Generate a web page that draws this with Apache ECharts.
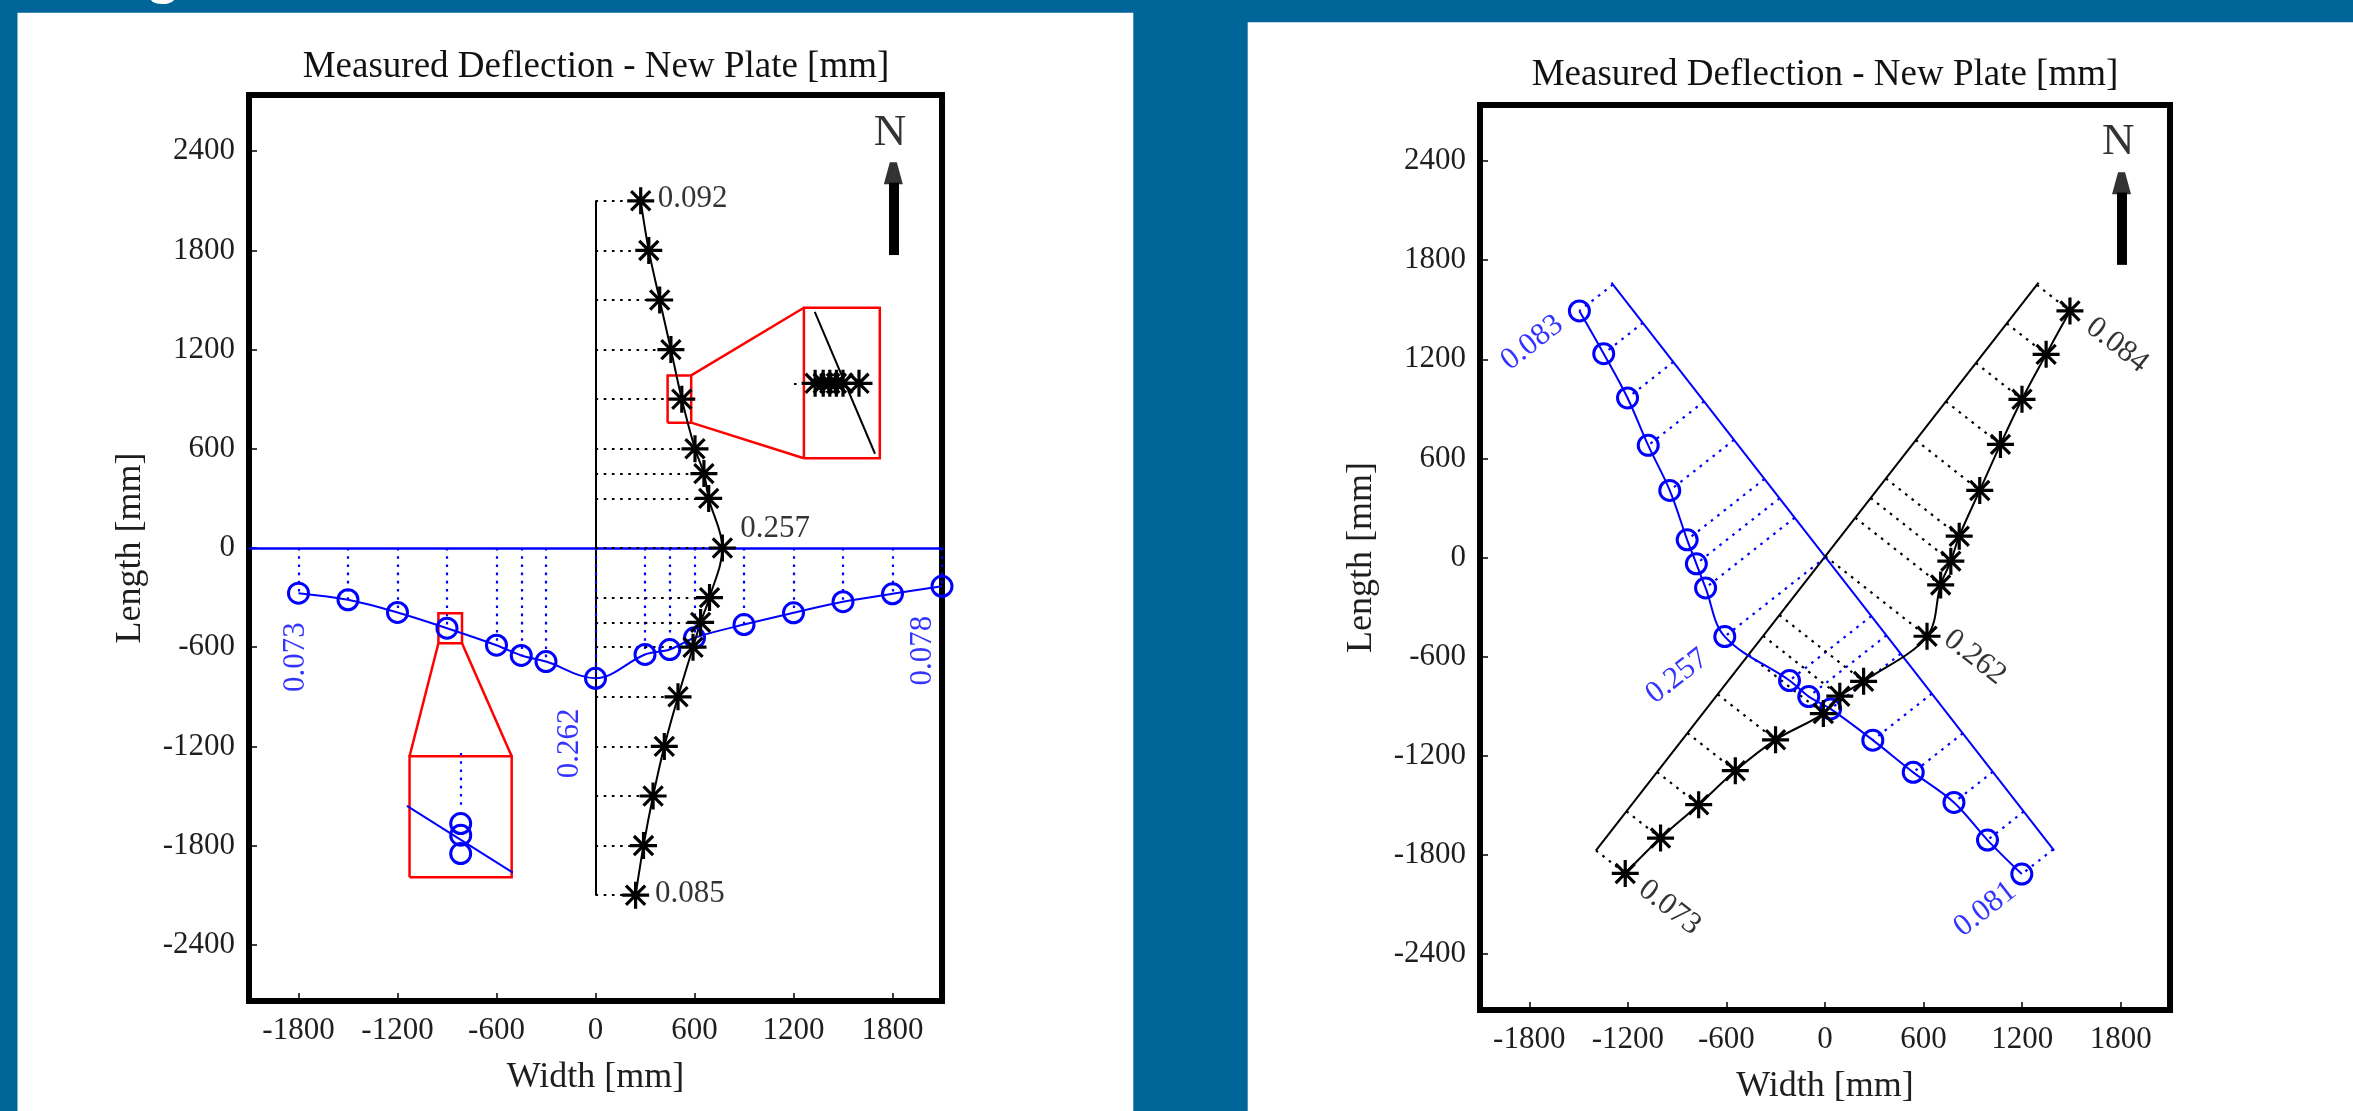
<!DOCTYPE html>
<html><head><meta charset="utf-8">
<script src="https://cdn.jsdelivr.net/npm/echarts@6/dist/echarts.min.js"></script>
<style>html,body{margin:0;padding:0;background:#00669a;overflow:hidden}#c{width:2353px;height:1111px}</style>
</head><body><div id="c"></div>
<script>
// ---------------- data ----------------
const TITLE = 'Measured Deflection - New Plate [mm]';
const X_NAME = 'Width [mm]';
const Y_NAME = 'Length [mm]';
const X_TICKS = [-1800, -1200, -600, 0, 600, 1200, 1800];
const Y_TICKS = [-2400, -1800, -1200, -600, 0, 600, 1200, 1800, 2400];
const X_RANGE = [-2100, 2100];
const Y_RANGE = [-2740, 2740];

// Left panel: projected deflections
const L_BLUE_X = [-1800, -1500, -1200, -900, -600, -450, -300, 0, 300, 450, 600, 900, 1200, 1500, 1800, 2100];
const L_BLUE_Y = [-273, -313, -390, -485, -588, -650, -687, -788, -644, -614, -543, -463, -392, -325, -277, -232];
const L_BLACK_Y = [2100, 1800, 1500, 1200, 900, 600, 450, 300, 0, -300, -450, -600, -900, -1200, -1500, -1800, -2100];
const L_BLACK_X = [274, 323, 389, 457, 523, 603, 657, 686, 769, 691, 637, 591, 500, 417, 349, 291, 243];
const L_LABELS = ['0.092', '0.257', '0.085', '0.073', '0.262', '0.078'];
const L_LABEL_AT = [[589, 2113], [1089, 113], [572, -2091], [-1814, -660], [-157, -1181], [1986, -620]];
const L_LABEL_ROT = [0, 0, 0, 90, 90, 90];
const L_LABEL_SERIES = ['k', 'k', 'k', 'b', 'b', 'b'];

// Left panel insets (zoom boxes)
const INSET_B_SMALL = [-952, -809, -576, -394];
const INSET_B_BIG = [-1127, -508, -1991, -1260];
const INSET_B_STEM = [[-817, -1240], [-817, -1560]];
const INSET_B_CIRC_X = [-817, -817, -817];
const INSET_B_CIRC_Y = [-1667, -1737, -1848];
const INSET_B_LINE = [[-1143, -1560], [-501, -1964]];
const INSET_K_SMALL = [437, 580, 758, 1044];
const INSET_K_BIG = [1263, 1723, 543, 1453];
const INSET_K_STEM = [[1203, 996], [1335, 996]];
const INSET_K_STAR_X = [1331, 1380, 1420, 1460, 1500, 1597];
const INSET_K_STAR_Y = [996, 996, 996, 996, 996, 996];
const INSET_K_LINE = [[1329, 1428], [1694, 570]];

// Right panel: diagonal deflections
const R_BLUE_X = [-1495, -1347, -1202, -1076, -945, -839, -783, -727, -610, -216, -99, 34, 291, 537, 785, 989, 1198];
const R_BLUE_Y = [1493, 1234, 966, 679, 406, 107, -38, -184, -479, -745, -842, -917, -1106, -1301, -1483, -1711, -1917];
const R_BLACK_X = [1491, 1346, 1199, 1068, 942, 817, 766, 704, 621, 235, 90, -10, -301, -546, -769, -1001, -1216];
const R_BLACK_Y = [1493, 1230, 958, 685, 406, 129, -22, -166, -477, -750, -840, -945, -1104, -1291, -1497, -1699, -1913];
const R_BLUE_REF = [[-1300, 1665], [1395, -1775]];
const R_BLACK_REF = [[-1395, -1775], [1300, 1665]];
const R_LABELS = ['0.083', '0.257', '0.081', '0.084', '0.262', '0.073'];
const R_LABEL_AT = [[-1782, 1300], [-900, -720], [975, -2130], [1778, 1285], [912, -605], [-947, -2120]];
const R_LABEL_ROT = [38, 38, 38, -38, -38, -38];
const R_LABEL_SERIES = ['b', 'b', 'b', 'k', 'k', 'k'];

// North marker
const NORTH_TEXT = 'N';
const NORTH_AT = [1785, 2512];
const NORTH_SHAFT = [[1805, 1772], [1805, 2210]];
const NORTH_HEAD = [1805, 2266];

// ---------------- helpers ----------------
const FONT = '"Liberation Serif", "Times New Roman", serif';
const BLUE = '#0000ff', BLACK = '#000000', RED = '#ff0000';
const STAR = 'path://M0 10L20 10M10 0L10 20M2.9 2.9L17.1 17.1M17.1 2.9L2.9 17.1';
const HEAD = 'path://M6 0L13 0L19 22L0 22Z';
const zip = (xs, ys) => xs.map((x, i) => [x, ys[i]]);
function foot(p, ref) {
  const a = ref[0], b = ref[1], dx = b[0] - a[0], dy = b[1] - a[1];
  const t = ((p[0] - a[0]) * dx + (p[1] - a[1]) * dy) / (dx * dx + dy * dy);
  return [a[0] + t * dx, a[1] + t * dy];
}
function rectCoords(r) { return [[r[0], r[2]], [r[1], r[2]], [r[1], r[3]], [r[0], r[3]], [r[0], r[2]]]; }
function lines(g, segs, color, width, dotted, polyline) {
  return { type: 'lines', coordinateSystem: 'cartesian2d', xAxisIndex: g, yAxisIndex: g, polyline: !!polyline, silent: true,
    z: 3, data: segs.map(s => ({ coords: s })),
    lineStyle: { color: color, width: width, opacity: 1, type: dotted ? [2.6, 5.6] : 'solid', cap: 'butt' } };
}
function curve(g, pts, color) {
  return { type: 'line', xAxisIndex: g, yAxisIndex: g, data: pts, smooth: 0.35, showSymbol: false, silent: true, z: 4,
    lineStyle: { color: color, width: 2 } };
}
function markers(g, pts, kind) {
  const isStar = kind === 'k';
  return { type: 'scatter', xAxisIndex: g, yAxisIndex: g, data: pts, silent: true, z: 5,
    symbol: isStar ? STAR : 'circle', symbolSize: isStar ? 27 : 20,
    itemStyle: { color: 'rgba(0,0,0,0)', borderColor: isStar ? BLACK : BLUE, borderWidth: isStar ? 3.2 : 3, opacity: 1 } };
}
function texts(g, items, size) {
  return { type: 'scatter', xAxisIndex: g, yAxisIndex: g, silent: true, z: 6, symbolSize: 1,
    itemStyle: { color: 'rgba(0,0,0,0)' },
    data: items.map(it => ({ value: it.at, label: { formatter: it.text, rotate: it.rot, color: it.color } })),
    label: { show: true, position: 'inside', fontFamily: FONT, fontSize: size, align: 'center', verticalAlign: 'middle' } };
}
function north(g) {
  return [
    lines(g, [NORTH_SHAFT], BLACK, 10, false),
    { type: 'scatter', xAxisIndex: g, yAxisIndex: g, silent: true, z: 6, data: [NORTH_HEAD], symbol: HEAD, symbolSize: [19, 22],
      itemStyle: { color: BLACK } },
    texts(g, [{ text: NORTH_TEXT, at: NORTH_AT, rot: 0, color: BLACK }], 45)
  ];
}

// ---------------- left panel series ----------------
const lBlue = zip(L_BLUE_X, L_BLUE_Y);
const lBlack = zip(L_BLACK_X, L_BLACK_Y);
const series = [];
series.push(lines(0, [[[X_RANGE[0], 0], [X_RANGE[1], 0]]], BLUE, 2.5, false));
series.push(lines(0, [[[0, L_BLACK_Y[L_BLACK_Y.length - 1]], [0, L_BLACK_Y[0]]]], BLACK, 2, false));
series.push(lines(0, lBlue.map(p => [[p[0], 0], p]), BLUE, 2.2, true));
series.push(lines(0, lBlack.map(p => [[0, p[1]], p]), BLACK, 2.2, true));
series.push(curve(0, lBlue, BLUE));
series.push(curve(0, lBlack, BLACK));
series.push(markers(0, lBlue, 'b'));
series.push(markers(0, lBlack, 'k'));
// blue inset
series.push(lines(0, [rectCoords(INSET_B_SMALL), rectCoords(INSET_B_BIG)], RED, 2.5, false, true));
series.push(lines(0, [[[INSET_B_SMALL[0], INSET_B_SMALL[2]], [INSET_B_BIG[0], INSET_B_BIG[3]]],
                      [[INSET_B_SMALL[1], INSET_B_SMALL[2]], [INSET_B_BIG[1], INSET_B_BIG[3]]]], RED, 2.5, false));
series.push(lines(0, [INSET_B_STEM], BLUE, 2.2, true));
series.push(lines(0, [INSET_B_LINE], BLUE, 2, false));
series.push(markers(0, zip(INSET_B_CIRC_X, INSET_B_CIRC_Y), 'b'));
// black inset
series.push(lines(0, [rectCoords(INSET_K_SMALL), rectCoords(INSET_K_BIG)], RED, 2.5, false, true));
series.push(lines(0, [[[INSET_K_SMALL[1], INSET_K_SMALL[3]], [INSET_K_BIG[0], INSET_K_BIG[3]]],
                      [[INSET_K_SMALL[1], INSET_K_SMALL[2]], [INSET_K_BIG[0], INSET_K_BIG[2]]]], RED, 2.5, false));
series.push(lines(0, [INSET_K_STEM], BLACK, 2.2, true));
series.push(lines(0, [INSET_K_LINE], BLACK, 2, false));
series.push(markers(0, zip(INSET_K_STAR_X, INSET_K_STAR_Y), 'k'));
series.push(texts(0, L_LABELS.map((t, i) => ({ text: t, at: L_LABEL_AT[i], rot: L_LABEL_ROT[i], color: L_LABEL_SERIES[i] === 'b' ? BLUE : BLACK })), 31));
north(0).forEach(s => series.push(s));

// ---------------- right panel series ----------------
const rBlue = zip(R_BLUE_X, R_BLUE_Y);
const rBlack = zip(R_BLACK_X, R_BLACK_Y);
series.push(lines(1, [R_BLUE_REF], BLUE, 2, false));
series.push(lines(1, [R_BLACK_REF], BLACK, 2, false));
series.push(lines(1, rBlue.map(p => [foot(p, R_BLUE_REF), p]), BLUE, 2.2, true));
series.push(lines(1, rBlack.map(p => [foot(p, R_BLACK_REF), p]), BLACK, 2.2, true));
series.push(curve(1, rBlue, BLUE));
series.push(curve(1, rBlack, BLACK));
series.push(markers(1, rBlue, 'b'));
series.push(markers(1, rBlack, 'k'));
series.push(texts(1, R_LABELS.map((t, i) => ({ text: t, at: R_LABEL_AT[i], rot: R_LABEL_ROT[i], color: R_LABEL_SERIES[i] === 'b' ? BLUE : BLACK })), 31));
north(1).forEach(s => series.push(s));

// ---------------- axes ----------------
const plain = v => String(v);
function xAxis(g) {
  return { gridIndex: g, type: 'value', min: X_RANGE[0], max: X_RANGE[1],
    axisLine: { show: false, onZero: false }, splitLine: { show: false },
    axisTick: { show: true, inside: true, length: 8, customValues: X_TICKS, lineStyle: { color: BLACK, width: 1.5 } },
    axisLabel: { customValues: X_TICKS, formatter: plain, margin: 14, fontFamily: FONT, fontSize: 31, color: '#1e1e1e' },
    name: X_NAME, nameLocation: 'middle', nameGap: 59,
    nameTextStyle: { fontFamily: FONT, fontSize: 36, color: '#1e1e1e' } };
}
function yAxis(g) {
  return { gridIndex: g, type: 'value', min: Y_RANGE[0], max: Y_RANGE[1],
    axisLine: { show: false, onZero: false }, splitLine: { show: false },
    axisTick: { show: true, inside: true, length: 8, customValues: Y_TICKS, lineStyle: { color: BLACK, width: 1.5 } },
    axisLabel: { customValues: Y_TICKS, formatter: plain, margin: 14, fontFamily: FONT, fontSize: 31, color: '#1e1e1e' },
    name: Y_NAME, nameLocation: 'middle', nameGap: 100,
    nameTextStyle: { fontFamily: FONT, fontSize: 36, color: '#1e1e1e' } };
}
const gridStyle = { show: true, borderColor: BLACK, borderWidth: 6, backgroundColor: 'rgba(0,0,0,0)' };

const option = {
  animation: false,
  backgroundColor: '#00669a',
  graphic: [
    { type: 'rect', z: -10, shape: { x: 17.5, y: 12.7, width: 1115.8, height: 1111 }, style: { fill: '#ffffff' } },
    { type: 'rect', z: -10, shape: { x: 1247.7, y: 22.3, width: 1106, height: 1111 }, style: { fill: '#ffffff' } },
    { type: 'text', x: 163, y: 5, style: { text: 'g', font: 'bold 60px "Liberation Sans"', fill: '#ffffff', textAlign: 'center', textVerticalAlign: 'bottom', align: 'center', verticalAlign: 'bottom' } },
    { type: 'text', x: 596, y: 67, style: { text: TITLE, font: '37px ' + FONT, fill: '#111111', textAlign: 'center', textVerticalAlign: 'middle', align: 'center', verticalAlign: 'middle' } },
    { type: 'text', x: 1825, y: 75, style: { text: TITLE, font: '37px ' + FONT, fill: '#111111', textAlign: 'center', textVerticalAlign: 'middle', align: 'center', verticalAlign: 'middle' } }
  ],
  grid: [
    Object.assign({ left: 249, top: 95, width: 693, height: 906 }, gridStyle),
    Object.assign({ left: 1480, top: 105, width: 690, height: 905 }, gridStyle)
  ],
  xAxis: [xAxis(0), xAxis(1)],
  yAxis: [yAxis(0), yAxis(1)],
  series: series
};
const chart = echarts.init(document.getElementById('c'), null, { renderer: 'canvas' });
chart.setOption(option);
</script></body></html>
